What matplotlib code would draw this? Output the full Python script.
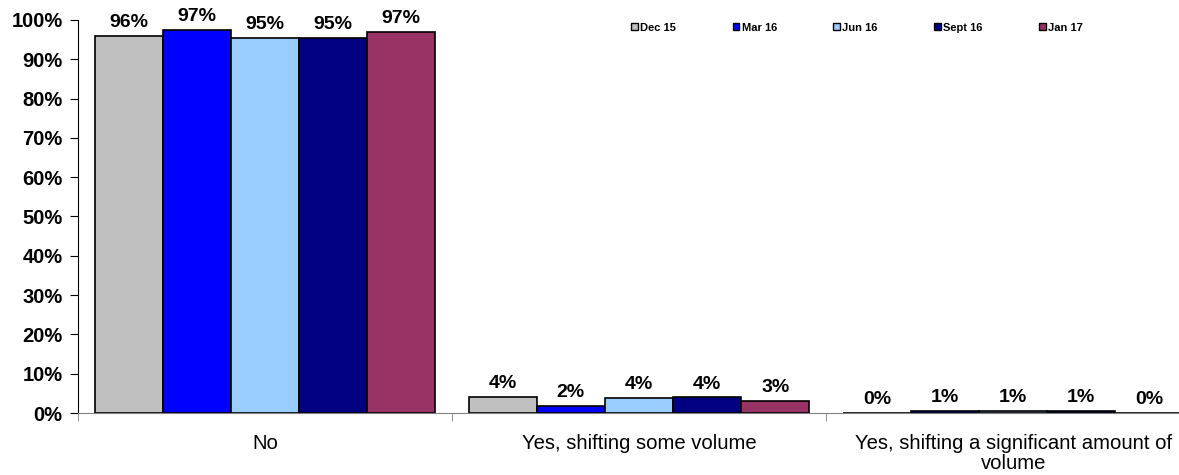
import numpy as np
import matplotlib.pyplot as plt

plt.rcParams['font.family'] = ['Liberation Sans', 'DejaVu Sans']

categories = ['No', 'Yes, shifting some volume', 'Yes, shifting a significant amount of\nvolume']
series = ['Dec 15', 'Mar 16', 'Jun 16', 'Sept 16', 'Jan 17']
values = [
    [0.959, 0.041, 0.0],
    [0.975, 0.018, 0.005],
    [0.954, 0.038, 0.005],
    [0.954, 0.040, 0.005],
    [0.969, 0.031, 0.0],
]
labels = [
    ['96%', '4%', '0%'],
    ['97%', '2%', '1%'],
    ['95%', '4%', '1%'],
    ['95%', '4%', '1%'],
    ['97%', '3%', '0%'],
]
colors = ['#C0C0C0', '#0000FF', '#99CCFF', '#000080', '#993366']

fig = plt.figure(figsize=(11.79, 4.75), dpi=100)
# axes runs a bit past the right edge, like the original export
ax = fig.add_axes([0.066, 0.1305, 0.952, 0.8275])

x = np.arange(len(categories))
w = 0.182
for i, s in enumerate(series):
    pos = x + (i - 2) * w
    ax.bar(pos, values[i], w, color=colors[i], edgecolor='black', linewidth=1.2, label=s)
    for p, v, t in zip(pos, values[i], labels[i]):
        ax.text(p, v + 0.012, t, ha='center', va='bottom', fontsize=14, fontweight='bold')

ax.set_xlim(-0.5, 2.5)
ax.set_ylim(0, 1)
ticks = np.arange(0, 1.01, 0.1)
ax.set_yticks(ticks)
ax.set_yticklabels([f'{int(round(t * 100))}%' for t in ticks], fontsize=14.5, fontweight='bold')
ax.set_xticks(x)
ax.set_xticklabels(categories, fontsize=14.6, linespacing=1.1)
ax.set_xticks([-0.5, 0.5, 1.5, 2.5], minor=True)
ax.tick_params(axis='x', which='major', length=0, pad=15)
ax.tick_params(axis='x', which='minor', length=6, color='#808080')
ax.tick_params(axis='y', length=6, color='black', pad=5)
for sp in ['top', 'right']:
    ax.spines[sp].set_visible(False)
ax.spines['left'].set_color('black')
ax.spines['bottom'].set_color('#808080')

leg = fig.legend(loc='center', bbox_to_anchor=(0.727, 0.942), ncol=5, frameon=False,
                 prop={'size': 8, 'weight': 'bold'}, handlelength=0.6, handleheight=0.6,
                 handletextpad=0.2, columnspacing=5.1)
for h in leg.legend_handles:
    h.set_linewidth(1.0)

fig.savefig('out.png', dpi=100)
